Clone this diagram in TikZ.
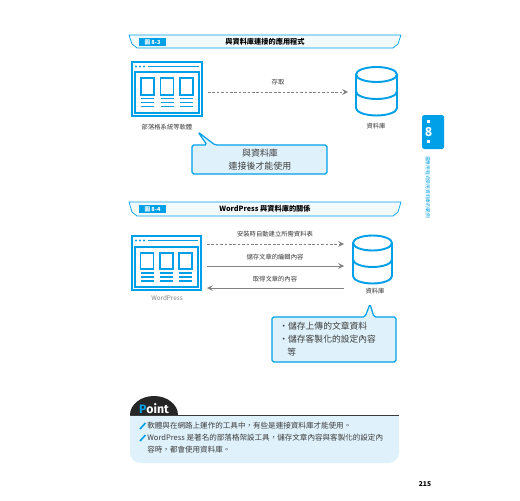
\documentclass[tikz,border=0pt]{standalone}
\usepackage{fontspec}
\setmainfont{Noto Sans CJK TC}
\setsansfont{Fira Sans}
\definecolor{bookblue}{RGB}{0,160,233}
\definecolor{paleblue}{RGB}{223,241,251}
\definecolor{arrowgray}{RGB}{130,130,130}
\definecolor{inkgray}{RGB}{60,60,60}
\tikzset{
	icon/.style={draw=bookblue, line width=1.1pt},
	thinicon/.style={draw=bookblue, line width=0.75pt},
	banner/.style={draw=bookblue, line width=0.4pt, fill=bookblue!5},
	tag/.style={text=white, inner sep=0pt, font=\fontsize{3.2}{4}\selectfont\bfseries},
	caption/.style={text=inkgray, inner sep=0pt, font=\fontsize{3.6}{4.5}\selectfont},
	heading/.style={text=black, inner sep=0pt, font=\fontsize{4.1}{5}\selectfont\bfseries},
	bubble/.style={draw=bookblue, fill=paleblue, line width=0.7pt, rounded corners=1pt},
	notetext/.style={inner sep=0pt, text=inkgray, anchor=west, font=\fontsize{5}{6}\selectfont},
	pointtext/.style={text=inkgray, inner sep=0pt, anchor=west, font=\fontsize{4.3}{5}\selectfont},
	flow/.style={->, >=stealth, arrowgray, line width=0.45pt},
	flowdash/.style={flow, dash pattern=on 1.5pt off 1pt},
}
\begin{document}
\begin{tikzpicture}[x=0.02cm, y=-0.02cm]
	\useasboundingbox[fill=white] (0,0) rectangle (520,500);
	
	% Tieu de 8-3
	\draw[banner] (129,35) -- (401,35) -- (398,44) -- (393,48) -- (137,48) -- (132,44) -- cycle;
	\fill[bookblue] (139,38) rectangle (166,46);
	\node[tag] (tag3) at (152.5,42) {圖 8-3};
	\node[heading] (title3) at (265,41.5) {與資料庫連接的應用程式};
	
	% Cua so 1
	\draw[icon] (132,62) rectangle (202,116);
	\draw[icon] (135,72) rectangle (199,113);
	\foreach \x in {141,160.5,180} {
		\draw[thinicon] (\x,78) rectangle (\x+13,95);
		\foreach \y in {98.5,102.5,106.5}
			\draw[thinicon] (\x,\y) -- (\x+13,\y);
	}
	\foreach \x in {136,140,144}
		\fill[bookblue] (\x,66.5) circle (1.1);
	\draw[thinicon] (148,66.5) -- (199,66.5);
	\coordinate (app3) at (208,92);
	\node[caption] (applabel3) at (167,127) {部落格系統等軟體};
	
	% Co so du lieu 1
	\draw[icon] (356,74.5) -- (356,108) arc[start angle=180, end angle=0, x radius=20.5, y radius=7.5] -- (397,74.5);
	\draw[icon] (356,91.5) arc[start angle=180, end angle=0, x radius=20.5, y radius=7.5];
	\draw[icon] (376.5,74.5) ellipse (20.5 and 7.5);
	\coordinate (db3) at (348,92);
	\node[caption] (dblabel3) at (376,126) {資料庫};
	
	\draw[flowdash] (app3) -- (db3);
	\node[caption] (access) at (278,82) {存取};
	
	% Chu thich 1
	\draw[bubble] (192,145) -- (207,145) -- (198,132) -- (215,145) -- (327,145) -- (327,174) -- (192,174) -- cycle;
	\node[inner sep=0pt, align=center, text=inkgray, font=\fontsize{5.1}{7.3}\selectfont] (note3) at (260,160) {與資料庫\\連接後才能使用};
	
	% Tieu de 8-4
	\draw[banner] (129,202) -- (401,202) -- (398,212) -- (393,216) -- (137,216) -- (132,212) -- cycle;
	\fill[bookblue] (139,205) rectangle (166,213);
	\node[tag] (tag4) at (152.5,209) {圖 8-4};
	\node[heading] (title4) at (265,209) {WordPress 與資料庫的關係};
	
	% Cua so 2
	\draw[icon] (132,236) rectangle (201,290);
	\draw[icon] (135,247) rectangle (198,287);
	\foreach \x in {140.5,160,179} {
		\draw[thinicon] (\x,253) rectangle (\x+13,269);
		\foreach \y in {273,277,281}
			\draw[thinicon] (\x,\y) -- (\x+13,\y);
	}
	\foreach \x in {136,140,144}
		\fill[bookblue] (\x,240.5) circle (1.1);
	\draw[thinicon] (148,240.5) -- (198,240.5);
	\node[caption, text=arrowgray] (applabel4) at (167,298) {WordPress};
	
	% Co so du lieu 2
	\draw[icon] (353,243) -- (353,276) arc[start angle=180, end angle=0, x radius=19.5, y radius=7.5] -- (392,243);
	\draw[icon] (353,259.5) arc[start angle=180, end angle=0, x radius=19.5, y radius=7.5];
	\draw[icon] (372.5,243) ellipse (19.5 and 7.5);
	\node[caption] (dblabel4) at (375,291) {資料庫};
	
	\coordinate (appa) at (207,244);
	\coordinate (dba) at (344,244);
	\coordinate (appb) at (207,266);
	\coordinate (dbb) at (344,266);
	\coordinate (appc) at (207,288);
	\coordinate (dbc) at (344,288);
	\draw[flowdash] (appa) -- (dba);
	\draw[flow] (appb) -- (dbb);
	\draw[flow] (dbc) -- (appc);
	\node[caption] (create) at (275,234.5) {安裝時自動建立所需資料表};
	\node[caption] (store) at (275,257) {儲存文章的編輯內容};
	\node[caption] (fetch) at (275,279) {取得文章的內容};
	
	% Chu thich 2
	\draw[bubble] (272,317) -- (365,317) -- (370,304) -- (374,317) -- (396,317) -- (396,362) -- (272,362) -- cycle;
	\node[notetext] (note4a) at (279,326) {・儲存上傳的文章資料};
	\node[notetext] (note4b) at (279,339) {・儲存客製化的設定內容};
	\node[notetext] (note4c) at (287,352) {等};
	
	% Point
	\fill[paleblue, rounded corners=6] (130,405) -- (399,405) -- (399,463) -- (130,463) -- cycle;
	\fill[white] (125,400) rectangle (405,415);
	\fill[black!85] (130,415) arc[start angle=180, end angle=360, x radius=24, y radius=19] -- cycle;
	\draw[inkgray, line width=0.5pt] (130,415) -- (399,415);
	\node[inner sep=0pt, text=white, font=\fontsize{7}{8}\selectfont\bfseries\sffamily] (pointmark) at (154,408.5) {\textcolor{bookblue}{P}oint};
	\node[pointtext] (pointa) at (147,426) {軟體與在網路上運作的工具中，有些是連接資料庫才能使用。};
	\node[pointtext] (pointb) at (147,438) {WordPress 是著名的部落格架設工具，儲存文章內容與客製化的設定內};
	\node[pointtext] (pointc) at (147,450) {容時，都會使用資料庫。};
	\foreach \y in {426,438}
		\draw[bookblue, line width=0.9pt] (140,\y+3) -- (145.5,\y-3);
	
	% Ben phai
	\fill[bookblue, rounded corners=1] (422,115) rectangle (444,149);
	\node[inner sep=0pt, text=white, font=\fontsize{7}{8}\selectfont\bfseries] (chapter) at (428.5,132) {8};
	\fill[white] (427,120) rectangle (430,123);
	\fill[white] (427,140) rectangle (430,143);
	\node[inner sep=0pt, text=bookblue, rotate=-90, font=\fontsize{2.7}{3}\selectfont] (side) at (428,187) {當應用程式使用資料庫的範例};
	\node[inner sep=0pt, text=black, font=\fontsize{3.8}{4}\selectfont\bfseries] (page) at (425,484) {215};
\end{tikzpicture}
\end{document}
